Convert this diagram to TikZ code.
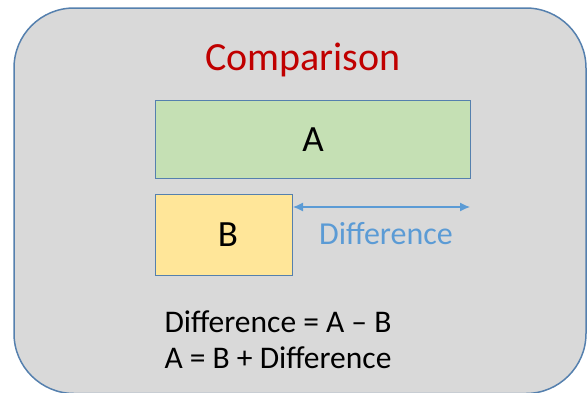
\documentclass[tikz,border=0pt]{standalone}
\usepackage{fontspec}
\setmainfont{Carlito}
\usetikzlibrary{arrows.meta}
\definecolor{panelgray}{HTML}{D9D9D9}
\definecolor{edgeblue}{HTML}{5580AE}
\definecolor{boxgreen}{HTML}{C5E0B4}
\definecolor{boxyellow}{HTML}{FFE699}
\definecolor{diffblue}{HTML}{5B9BD5}
\definecolor{titlered}{HTML}{C00000}
\tikzset{
  barbox/.style={draw=edgeblue,line width=1pt,anchor=north west,inner sep=0pt},
  boxletter/.style={font=\fontsize{37}{40}\selectfont},
  eqline/.style={anchor=west,font=\fontsize{31.5}{36}\selectfont}
}
\begin{document}
\begin{tikzpicture}[x=1pt,y=-1pt]
\useasboundingbox (0,0) rectangle (587,392);
\begin{scope}
\clip (0,0) rectangle (587,392);
\draw[fill=panelgray,draw=edgeblue,line width=1.5pt,rounded corners=60pt] (14,8) rectangle (586,393.5);
\end{scope}
\node[text=titlered,font=\fontsize{40}{46}\selectfont] (title) at (303,60) {Comparison};
\node[barbox,fill=boxgreen,minimum width=315pt,minimum height=78pt] (boxa) at (155,100) {};
\node[boxletter] at (boxa.center) {A};
\node[barbox,fill=boxyellow,minimum width=137pt,minimum height=81pt] (boxb) at (155,194) {};
\node[boxletter] at ([xshift=4pt]boxb.center) {B};
\coordinate (diffend) at (470,207);
\draw[diffblue,line width=1.2pt,{Latex[length=10pt,width=9pt]}-{Latex[length=10pt,width=9pt]}] (boxb.north east |- diffend) -- (diffend);
\node[text=diffblue,font=\fontsize{32}{36}\selectfont] (difftext) at (386,234) {Difference};
\node[eqline] (eqone) at (161,322) {Difference = A – B};
\node[eqline] (eqtwo) at (161,358) {A = B + Difference};
\end{tikzpicture}
\end{document}
